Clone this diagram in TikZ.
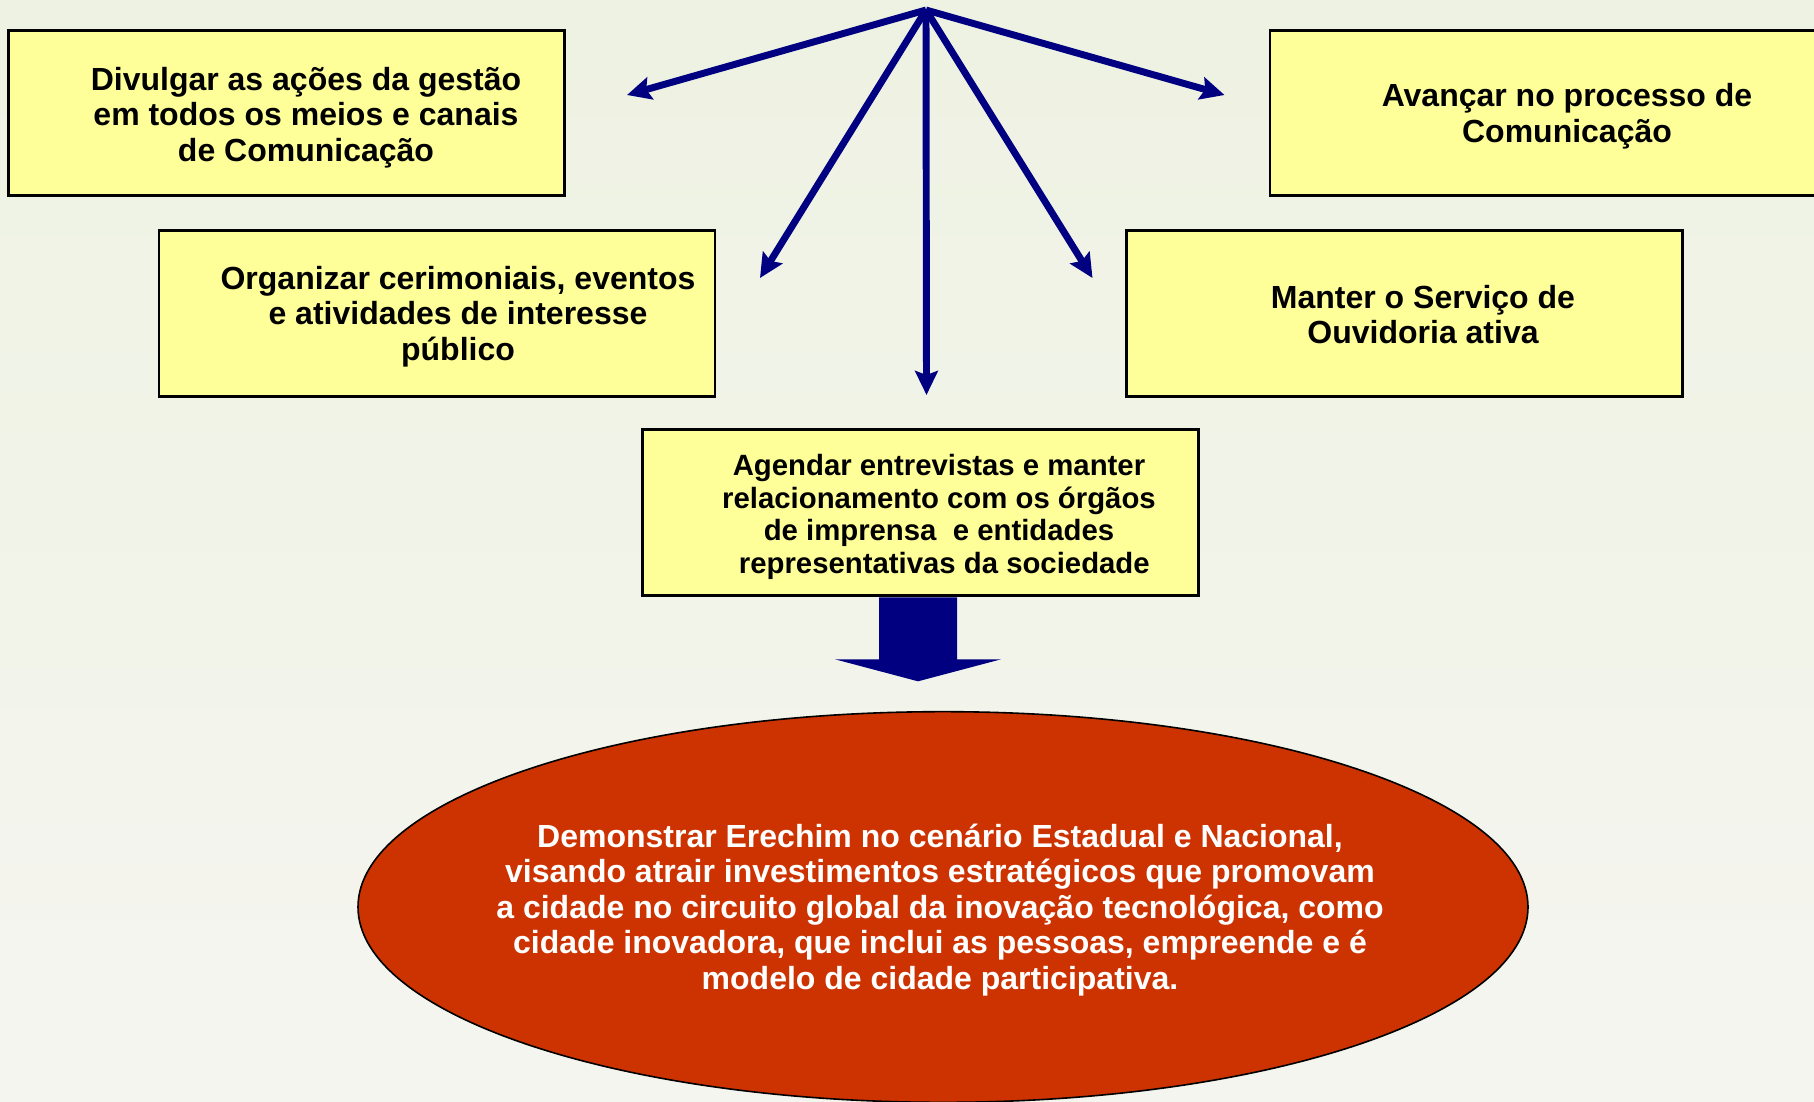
\documentclass[tikz,border=0pt]{standalone}
\usepackage{fontspec}
\setmainfont{Liberation Sans}
\usetikzlibrary{arrows.meta,shapes.geometric}
\definecolor{navy}{HTML}{000080}
\definecolor{boxyellow}{HTML}{FFFF99}
\definecolor{ellred}{HTML}{CC3300}
\definecolor{bgtop}{HTML}{EEF2E2}
\definecolor{bgbot}{HTML}{F5F5F0}
\begin{document}
\begin{tikzpicture}[x=0.75pt,y=-0.75pt,
  boxnode/.style={draw=black,line width=2.2pt,fill=boxyellow,inner sep=0pt,
    minimum width=417pt,minimum height=124pt},
  txt/.style={align=center,inner sep=0pt,font=\bfseries\fontsize{24}{26.6}\selectfont},
  txtsmall/.style={align=center,inner sep=0pt,font=\bfseries\fontsize{22}{24.6}\selectfont},
  conn/.style={draw=navy,line width=5.2pt,-{Stealth[length=18pt,width=17pt,inset=3pt]}}]
\useasboundingbox (0,0) rectangle (1814,1101);
\clip (0,0) rectangle (1814,1101);
\shade[top color=bgtop,bottom color=bgbot] (0,0) rectangle (1814,1101);

% boxes
\node[boxnode] (b1) at (286.5,113) {};
\node[boxnode] (b2) at (1548,113) {};
\node[boxnode] (b3) at (437,313.5) {};
\node[boxnode] (b4) at (1404.5,313.5) {};
\node[boxnode,minimum height=125pt] (b5) at (920.5,512.5) {};

% box texts
\node[txt] (t1) at (306,117.5) {Divulgar as ações da gestão\\em todos os meios e canais\\de Comunicação};
\node[txt] (t2) at (1567,116) {Avançar no processo de\\Comunicação};
\node[txt] (t3) at (458,316.5) {Organizar cerimoniais, eventos\\e atividades de interesse\\público};
\node[txt] (t4) at (1423,314.5) {Manter o Serviço de\\Ouvidoria ativa};
\node[txtsmall] (t5) at (939,517) {Agendar entrevistas e manter\\relacionamento com os órgãos\\de imprensa \ e entidades\\\hspace*{8pt}representativas da sociedade};

% fan of arrows
\coordinate (hub) at (926,10);
\coordinate (e1) at (627,95);
\coordinate (e2) at (1224.5,95);
\coordinate (e3) at (760,278);
\coordinate (e4) at (1092.5,278);
\coordinate (e5) at (926.5,395);
\draw[conn] (hub) -- (e1);
\draw[conn] (hub) -- (e2);
\draw[conn] (hub) -- (e3);
\draw[conn] (hub) -- (e4);
\draw[conn] (hub) -- (e5);

% goal ellipse
\node[draw=black,line width=1.2pt,fill=ellred,ellipse,inner sep=0pt,
  minimum width=877.5pt,minimum height=293pt] (goal) at (943,907) {};
\node[txt,text=white] (tg) at (940,910) {Demonstrar Erechim no cenário Estadual e Nacional,\\visando atrair investimentos estratégicos que promovam\\a cidade no circuito global da inovação tecnológica, como\\cidade inovadora, que inclui as pessoas, empreende e é\\modelo de cidade participativa.};

% block arrow from b5 towards goal
\begin{scope}[shift={(b5.south)}]
\fill[navy] (-41.5,0) -- (36.5,0) -- (36.5,62) -- (80.5,62) -- (-2.5,84) -- (-85.5,62) -- (-41.5,62) -- cycle;
\end{scope}
\end{tikzpicture}
\end{document}
